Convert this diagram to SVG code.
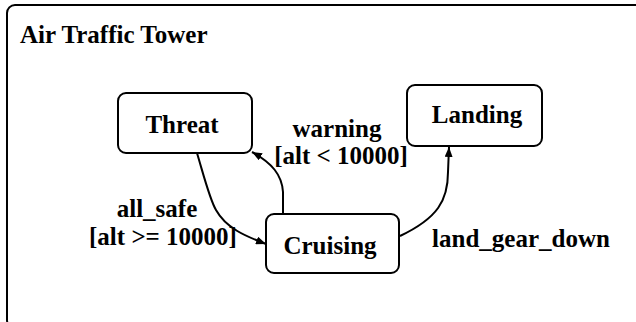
<svg xmlns="http://www.w3.org/2000/svg" width="636" height="322" viewBox="0 0 636 322">
  <style>
    .frame { fill: #ffffff; stroke: #000000; stroke-width: 2; }
    .state { fill: #ffffff; stroke: #000000; stroke-width: 2; }
    .txt { font-family: "Liberation Serif", "Times New Roman", serif; font-weight: bold; font-size: 25px; fill: #000000; }
    .mid { text-anchor: middle; }
    .edge { fill: none; stroke: #000000; stroke-width: 2; }
  </style>
  <defs>
    <marker id="arrow" viewBox="0 0 10 8" refX="10" refY="4" markerWidth="10" markerHeight="8" markerUnits="userSpaceOnUse" orient="auto">
      <path d="M0,0 L10,4 L0,8 z" fill="#000000"/>
    </marker>
  </defs>
  <rect width="636" height="322" fill="#ffffff"/>

  <!-- enclosing composite state -->
  <g id="air-traffic-tower">
    <rect class="frame" x="7" y="5" width="636" height="323" rx="8"/>
    <text class="txt" x="20" y="43">Air Traffic Tower</text>
  </g>

  <!-- transitions -->
  <g id="connectors">
    <path class="edge" d="M197,153 C205,180 210,200 216,210 C226,228 245,236 266,244" marker-end="url(#arrow)"/>
    <path class="edge" d="M283,214 L283,192 C282,175 272,163 252,152" marker-end="url(#arrow)"/>
    <path class="edge" d="M400,236 C438,218 448,200 448,172 L449,147" marker-end="url(#arrow)"/>
    <text class="txt mid" x="337" y="137">warning</text>
    <text class="txt mid" x="341" y="164">[alt &lt; 10000]</text>
    <text class="txt mid" x="157" y="217">all_safe</text>
    <text class="txt mid" x="163" y="245">[alt &gt;= 10000]</text>
    <text class="txt mid" x="521" y="247">land_gear_down</text>
  </g>

  <g id="threat">
    <rect class="state" x="118" y="93" width="134" height="60" rx="8"/>
    <text class="txt mid" x="182" y="133">Threat</text>
  </g>

  <g id="cruising">
    <rect class="state" x="266" y="214" width="133" height="59" rx="8"/>
    <text class="txt mid" x="330" y="254">Cruising</text>
  </g>

  <g id="landing">
    <rect class="state" x="407" y="85" width="135" height="61" rx="8"/>
    <text class="txt mid" x="477" y="123">Landing</text>
  </g>
</svg>
